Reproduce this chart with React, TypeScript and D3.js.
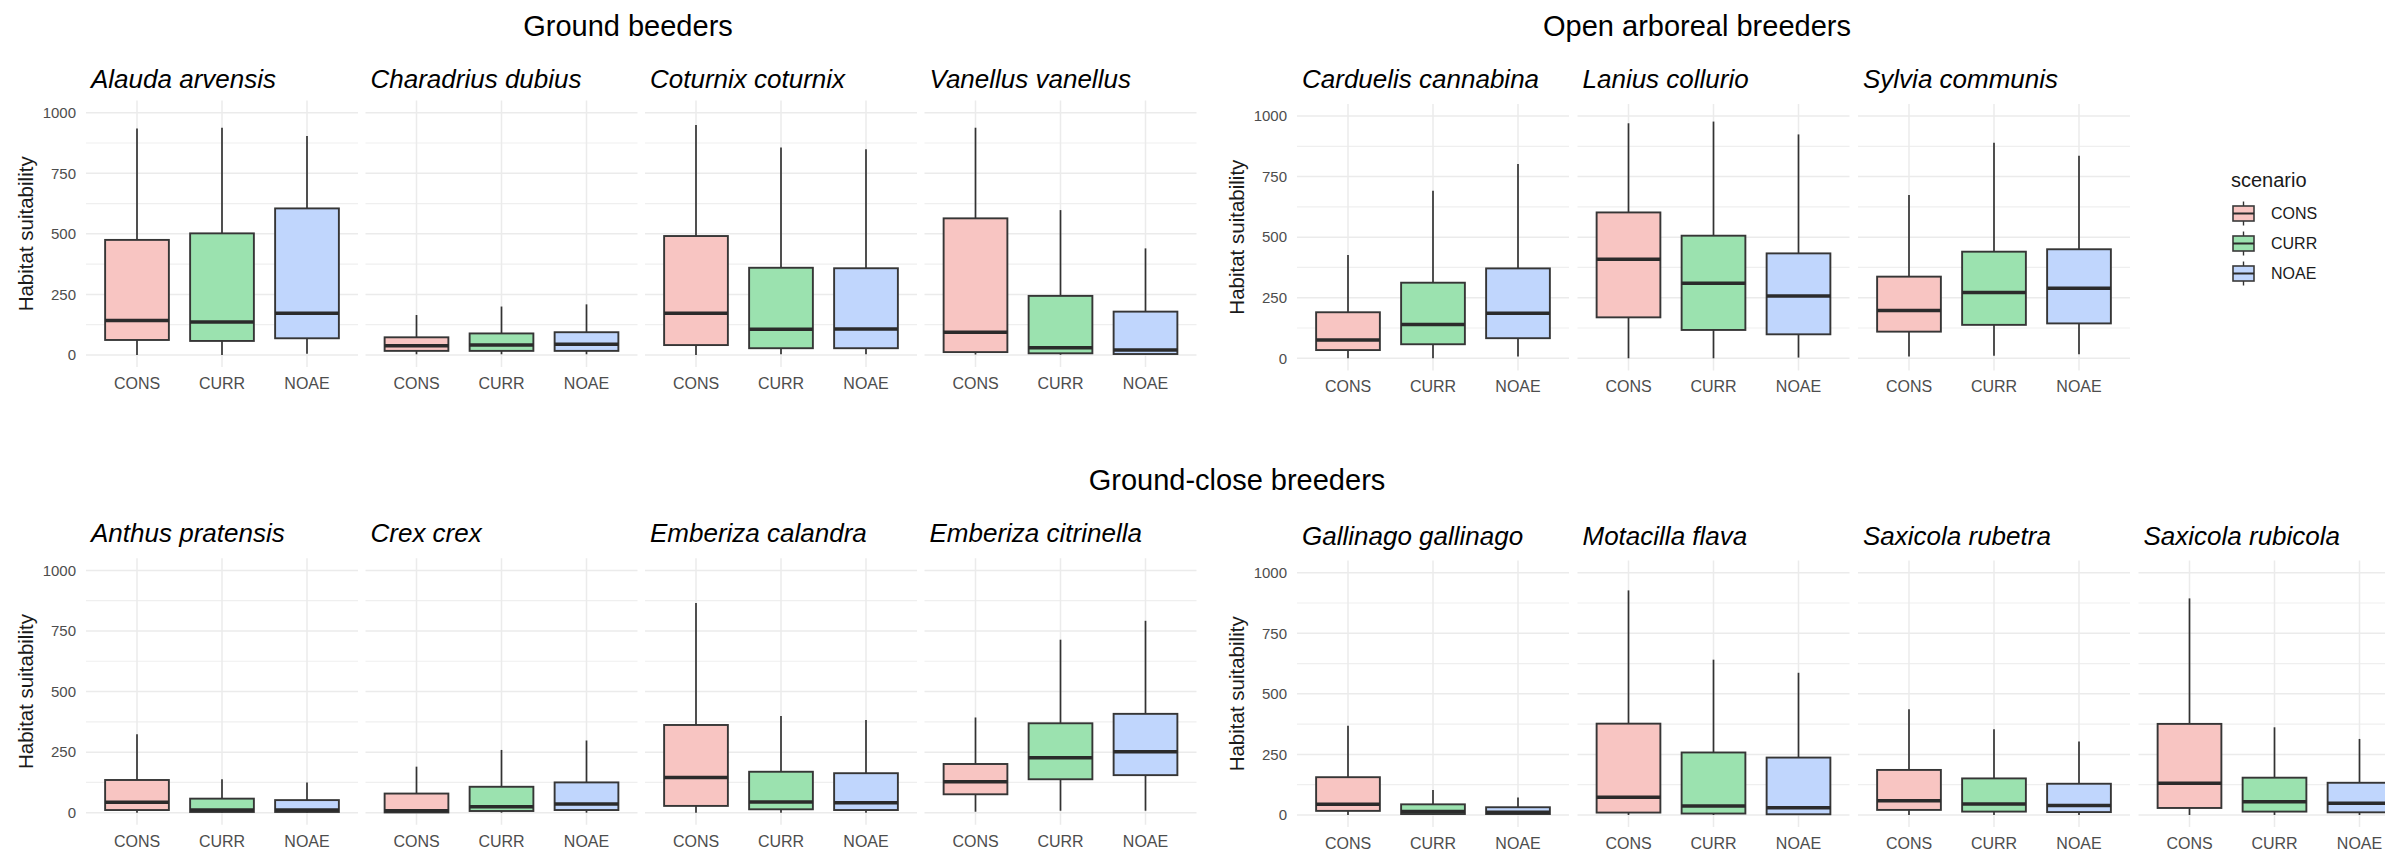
import React from 'react';
import * as d3 from 'd3';

// box stats per scenario: [lower whisker, Q1, median, Q3, upper whisker]
const scenarios = ['CONS', 'CURR', 'NOAE'];

const alaudaArvensis = [[0, 62, 142, 475, 935], [0, 58, 136, 502, 938], [5, 69, 172, 605, 904]];
const charadriusDubius = [[3, 17, 38, 73, 165], [3, 17, 41, 89, 200], [3, 17, 44, 94, 209]];
const coturnixCoturnix = [[0, 41, 172, 491, 949], [3, 28, 106, 360, 856], [3, 28, 107, 358, 849]];
const vanellusVanellus = [[2, 12, 94, 564, 938], [1, 7, 30, 244, 598], [0, 4, 21, 179, 440]];

const carduelisCannabina = [[0, 34, 76, 190, 426], [0, 58, 140, 312, 692], [7, 83, 186, 371, 802]];
const laniusCollurio = [[0, 169, 409, 602, 970], [0, 117, 310, 506, 977], [3, 99, 257, 433, 924]];
const sylviaCommunis = [[7, 110, 197, 337, 674], [11, 138, 272, 440, 890], [17, 144, 289, 450, 836]];

const anthusPratensis = [[0, 11, 43, 135, 324], [0, 3, 11, 58, 138], [0, 3, 11, 52, 125]];
const crexCrex = [[0, 1, 8, 79, 190], [0, 7, 25, 107, 259], [0, 11, 36, 125, 298]];
const emberizaCalandra = [[0, 28, 145, 362, 865], [0, 14, 44, 169, 399], [0, 11, 41, 163, 383]];
const emberizaCitrinella = [[4, 76, 128, 201, 393], [8, 138, 227, 369, 714], [8, 155, 252, 408, 792]];

const gallinagoGallinago = [[0, 17, 44, 156, 368], [0, 4, 14, 44, 103], [0, 4, 11, 32, 72]];
const motacillaFlava = [[0, 10, 73, 377, 927], [0, 6, 37, 258, 641], [0, 3, 30, 237, 587]];
const saxicolaRubetra = [[0, 21, 59, 186, 436], [0, 14, 45, 151, 354], [0, 12, 39, 129, 303]];
const saxicolaRubicola = [[0, 29, 131, 376, 894], [0, 14, 55, 154, 362], [0, 11, 48, 133, 314]];

const yTicks = [0, 250, 500, 750, 1000];
const yMinorTicks = [125, 375, 625, 875];

const groundSpecies = ['Alauda arvensis', 'Charadrius dubius', 'Coturnix coturnix', 'Vanellus vanellus'];
const groundData = [alaudaArvensis, charadriusDubius, coturnixCoturnix, vanellusVanellus];
const arborealSpecies = ['Carduelis cannabina', 'Lanius collurio', 'Sylvia communis'];
const arborealData = [carduelisCannabina, laniusCollurio, sylviaCommunis];
const closeLeftSpecies = ['Anthus pratensis', 'Crex crex', 'Emberiza calandra', 'Emberiza citrinella'];
const closeLeftData = [anthusPratensis, crexCrex, emberizaCalandra, emberizaCitrinella];
const closeRightSpecies = ['Gallinago gallinago', 'Motacilla flava', 'Saxicola rubetra', 'Saxicola rubicola'];
const closeRightData = [gallinagoGallinago, motacillaFlava, saxicolaRubetra, saxicolaRubicola];

const fills = ['#F8C5C2', '#9BE2AF', '#C0D6FD'];
const FONT = "'Liberation Sans', Arial, Helvetica, sans-serif";

const W = 272;
const groups = [
  { names: groundSpecies, data: groundData, left: 86, step: 279.5, y0: 355, stripY: 87.5 },
  { names: arborealSpecies, data: arborealData, left: 1297, step: 280.5, y0: 358.3, stripY: 87.5 },
  { names: closeLeftSpecies, data: closeLeftData, left: 86, step: 279.5, y0: 812.7, stripY: 541.5 },
  { names: closeRightSpecies, data: closeRightData, left: 1297, step: 280.5, y0: 815, stripY: 545 },
];

function Panel({ name, stats, left, y, showAxis, stripY }) {
  const x = d3.scalePoint().domain(scenarios).range([left, left + W]).padding(0.6);
  const bw = x.step() * 0.75;
  const top = y(1050);
  const bottom = y(-50);
  return (
    <g>
      {yMinorTicks.map((t) => (
        <line key={'m' + t} x1={left} x2={left + W} y1={y(t)} y2={y(t)} stroke="#efefef" strokeWidth={1.2} />
      ))}
      {yTicks.map((t) => (
        <line key={'g' + t} x1={left} x2={left + W} y1={y(t)} y2={y(t)} stroke="#ebebeb" strokeWidth={1.5} />
      ))}
      {scenarios.map((s) => (
        <line key={'v' + s} x1={x(s)} x2={x(s)} y1={top} y2={bottom} stroke="#ebebeb" strokeWidth={1.5} />
      ))}
      {showAxis &&
        yTicks.map((t) => (
          <text key={'t' + t} x={left - 10} y={y(t)} dy="0.35em" textAnchor="end" fontSize={15} fill="#4d4d4d" fontFamily={FONT}>
            {t}
          </text>
        ))}
      {showAxis && (
        <text
          transform={`translate(${left - 60},${(top + bottom) / 2}) rotate(-90)`}
          textAnchor="middle"
          dy="0.35em"
          fontSize={20.5}
          fill="#1a1a1a"
          fontFamily={FONT}
        >
          Habitat suitability
        </text>
      )}
      {scenarios.map((s, i) => {
        const [lo, q1, med, q3, hi] = stats[i];
        const cx = x(s);
        return (
          <g key={s}>
            <line x1={cx} x2={cx} y1={y(q3)} y2={y(hi)} stroke="#333" strokeWidth={1.7} />
            <line x1={cx} x2={cx} y1={y(q1)} y2={y(lo)} stroke="#333" strokeWidth={1.7} />
            <rect x={cx - bw / 2} y={y(q3)} width={bw} height={y(q1) - y(q3)} fill={fills[i]} stroke="#363636" strokeWidth={1.9} />
            <line x1={cx - bw / 2} x2={cx + bw / 2} y1={y(med)} y2={y(med)} stroke="#2b2b2b" strokeWidth={3.5} />
          </g>
        );
      })}
      {scenarios.map((s) => (
        <text key={'x' + s} x={x(s)} y={y(0) + 34} textAnchor="middle" fontSize={16} fill="#4d4d4d" fontFamily={FONT}>
          {s}
        </text>
      ))}
      <text x={left + 5} y={stripY} fontSize={26} fontStyle="italic" fill="#000" fontFamily={FONT}>
        {name}
      </text>
    </g>
  );
}

export default function App() {
  return (
    <svg
      width={2385}
      height={852}
      style={{ position: 'absolute', left: 0, top: 0, background: '#fff' }}
    >
      <rect width={2385} height={852} fill="#fff" />
      {groups.map((g, gi) => {
        const y = d3.scaleLinear().domain([0, 1000]).range([g.y0, g.y0 - 242.3]);
        return (
          <g key={gi}>
            {g.names.map((n, i) => (
              <Panel key={n} name={n} stats={g.data[i]} left={g.left + i * g.step} y={y} showAxis={i === 0} stripY={g.stripY} />
            ))}
          </g>
        );
      })}
      <text x={628} y={36} textAnchor="middle" fontSize={29} fill="#000" fontFamily={FONT}>Ground beeders</text>
      <text x={1697} y={36} textAnchor="middle" fontSize={29} fill="#000" fontFamily={FONT}>Open arboreal breeders</text>
      <text x={1237} y={490} textAnchor="middle" fontSize={29} fill="#000" fontFamily={FONT}>Ground-close breeders</text>
      <g>
        <text x={2231} y={187} fontSize={20} fill="#1a1a1a" fontFamily={FONT}>scenario</text>
        {scenarios.map((s, i) => {
          const cy = 213.5 + i * 30;
          return (
            <g key={s}>
              <line x1={2243.5} x2={2243.5} y1={cy - 12} y2={cy + 12} stroke="#333" strokeWidth={1.4} />
              <rect x={2233} y={cy - 7.5} width={21} height={15} fill={fills[i]} stroke="#3a3a3a" strokeWidth={1.6} />
              <line x1={2233} x2={2254} y1={cy} y2={cy} stroke="#2b2b2b" strokeWidth={2} />
              <text x={2271} y={cy} dy="0.35em" fontSize={16} fill="#1a1a1a" fontFamily={FONT}>{s}</text>
            </g>
          );
        })}
      </g>
    </svg>
  );
}
